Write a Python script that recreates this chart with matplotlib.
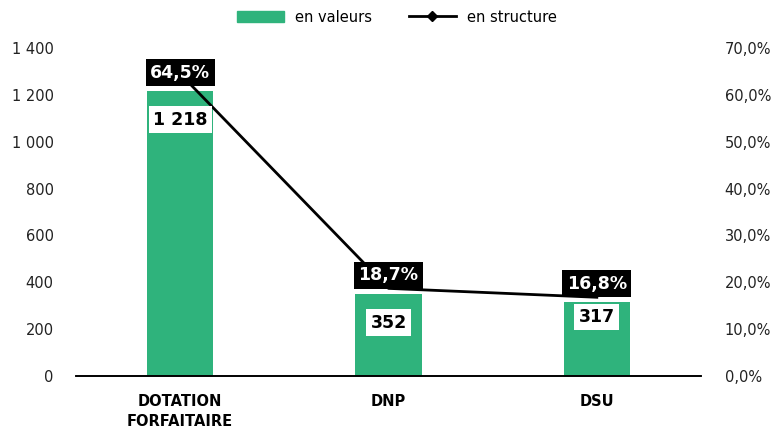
import matplotlib.pyplot as plt
from matplotlib.lines import Line2D
from matplotlib.patches import Patch
import numpy as np

# Data
categories = ['DOTATION\nFORFAITAIRE', 'DNP', 'DSU']
valeurs = [1218, 352, 317]
structure = [64.5, 18.7, 16.8]
left_ticks = [0, 200, 400, 600, 800, 1000, 1200, 1400]
right_ticks = [0, 10, 20, 30, 40, 50, 60, 70]

plt.rcParams['font.family'] = ['DejaVu Sans']

green = '#2fb37c'

fig = plt.figure(figsize=(7.71, 4.32), dpi=100)
ax = fig.add_axes([76 / 771, 1 - 376 / 432, (701 - 76) / 771, (376 - 48) / 432])
ax2 = ax.twinx()

x = np.arange(len(categories))
ax.bar(x, valeurs, width=0.317, color=green, zorder=2)
ax.set_xlim(-0.5, len(categories) - 0.5)
ax.set_ylim(0, 1400)
ax.set_yticks(left_ticks)
ax.set_yticklabels([f'{v:,}'.replace(',', ' ') for v in left_ticks], fontsize=10.5, color='#222222')
ax.set_xticks(x)
ax.set_xticklabels(categories, fontsize=10.5, fontweight='bold', linespacing=1.4)
ax.tick_params(axis='y', length=0, pad=16)
ax.tick_params(axis='x', length=0, pad=13)

# markers are hidden behind the labels in the source, so plot the plain line
ax2.plot(x, structure, color='black', linewidth=2, zorder=3)
ax2.set_ylim(0, 70)
ax2.set_yticks(right_ticks)
ax2.set_yticklabels([f'{v:.1f}%'.replace('.', ',') for v in right_ticks], fontsize=10.5, color='#222222')
ax2.tick_params(axis='y', length=0, pad=17)

for a in (ax, ax2):
    for s in ('top', 'left', 'right'):
        a.spines[s].set_visible(False)
    a.spines['bottom'].set_linewidth(1.2)

# value labels inside bars (last one nudged up as in the source)
# drawn on ax2 so they sit above the line
label_dy = [-21, -21, -11]
for i, v in enumerate(valeurs):
    ax2.annotate(f'{v:,}'.replace(',', ' '), (x[i], v), xycoords=ax.transData,
                 xytext=(0, label_dy[i]), textcoords='offset points',
                 ha='center', va='center', fontsize=12.5, fontweight='bold',
                 color='black', zorder=5,
                 bbox=dict(boxstyle='square,pad=0.25', fc='white', ec='none'))

# percentage labels sit just above the bar tops
for i, p in enumerate(structure):
    ax2.annotate(f'{p:.1f}%'.replace('.', ','), (x[i], valeurs[i]), xycoords=ax.transData,
                 xytext=(0, 13), textcoords='offset points',
                 ha='center', va='center', fontsize=12.5, fontweight='bold',
                 color='white', zorder=6,
                 bbox=dict(boxstyle='square,pad=0.25', fc='black', ec='none'))

handles = [Patch(color=green, label='en valeurs'),
           Line2D([0], [0], color='black', linewidth=2, marker='D', markersize=5, label='en structure')]
fig.legend(handles=handles, loc='center', bbox_to_anchor=(0.515, 1 - 17 / 432), ncol=2,
           frameon=False, fontsize=10.5, handlelength=3.2, columnspacing=2.5)

plt.savefig('out.png', dpi=100)
